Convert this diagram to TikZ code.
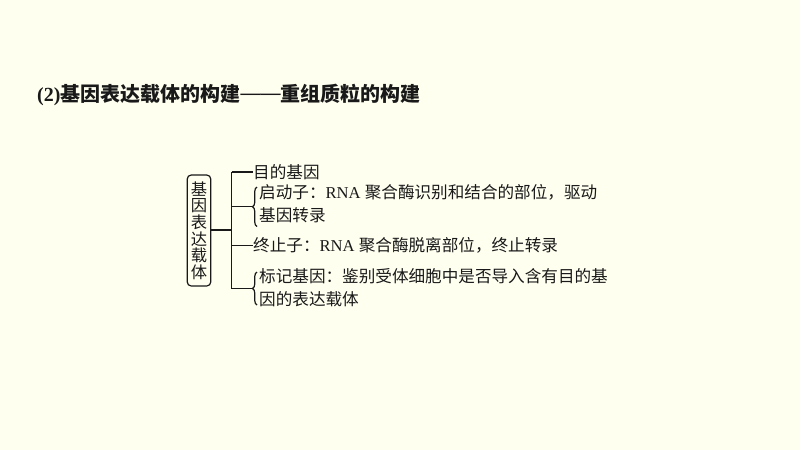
\documentclass[tikz,border=0pt]{standalone}
\usepackage{fontspec}
\setmainfont{Liberation Serif}
\newfontfamily\cjk{Noto Sans CJK SC}
\usetikzlibrary{decorations.pathreplacing}
\definecolor{bg}{RGB}{255,255,240}
\definecolor{ink}{RGB}{25,25,25}
\begin{document}
\begin{tikzpicture}[x=1pt,y=-1pt,
  txt/.style={anchor=west,inner sep=0pt,text=ink,font=\fontsize{16.6}{18}\selectfont},
  ln/.style={draw=ink,line width=1.2pt},
  bracepath/.style={ln,decorate,decoration={brace,amplitude=4.5pt}}]
\fill[bg] (0,0) rectangle (800,450);
\useasboundingbox (0,0) rectangle (800,450);
\node[anchor=west,inner sep=0pt,text=ink,font=\fontsize{20}{22}\selectfont\bfseries] (title) at (37,95) {(2){\cjk 基因表达载体的构建}\raisebox{0.08em}{——}{\cjk 重组质粒的构建}};
\node[ln,rounded corners=4pt,minimum width=23.5pt,minimum height=111pt,inner sep=0pt,align=center,text=ink,font=\cjk\fontsize{16.3}{16.6}\selectfont] (box) at (199,230.5) {基\\因\\表\\达\\载\\体};
\coordinate (jn) at (231.7,230);
\coordinate (top) at (231.7,172);
\coordinate (bot) at (231.7,288.5);
\draw[ln] (box.east |- jn) -- (jn);
\draw[ln] (top) -- (bot);
% branch 1
\node[txt] (t1) at (253,172) {\cjk 目的基因};
\draw[ln] (top) -- (t1.west);
% branch 2
\node[txt] (t2a) at (259,192.5) {{\cjk 启动子：}RNA {\cjk 聚合酶识别和结合的部位，驱动}};
\node[txt] (t2b) at (259,215.5) {\cjk 基因转录};
\coordinate (b2bot) at (257,226.5);
\coordinate (b2top) at (257,187);
\coordinate (b2tip) at (252.5,206.7);
\draw[bracepath] (b2bot) -- (b2top);
\draw[ln] (jn |- b2tip) -- (b2tip);
% branch 3
\node[txt] (t3) at (253,245.5) {{\cjk 终止子：}RNA {\cjk 聚合酶脱离部位，终止转录}};
\draw[ln] (jn |- t3.west) -- (t3.west);
% branch 4
\node[txt] (t4a) at (259,276.5) {\cjk 标记基因：鉴别受体细胞中是否导入含有目的基};
\node[txt] (t4b) at (259,299.5) {\cjk 因的表达载体};
\coordinate (b4bot) at (257,305);
\coordinate (b4top) at (257,272);
\coordinate (b4tip) at (252.5,288.5);
\draw[bracepath] (b4bot) -- (b4top);
\draw[ln] (bot) -- (b4tip);
\end{tikzpicture}
\end{document}
